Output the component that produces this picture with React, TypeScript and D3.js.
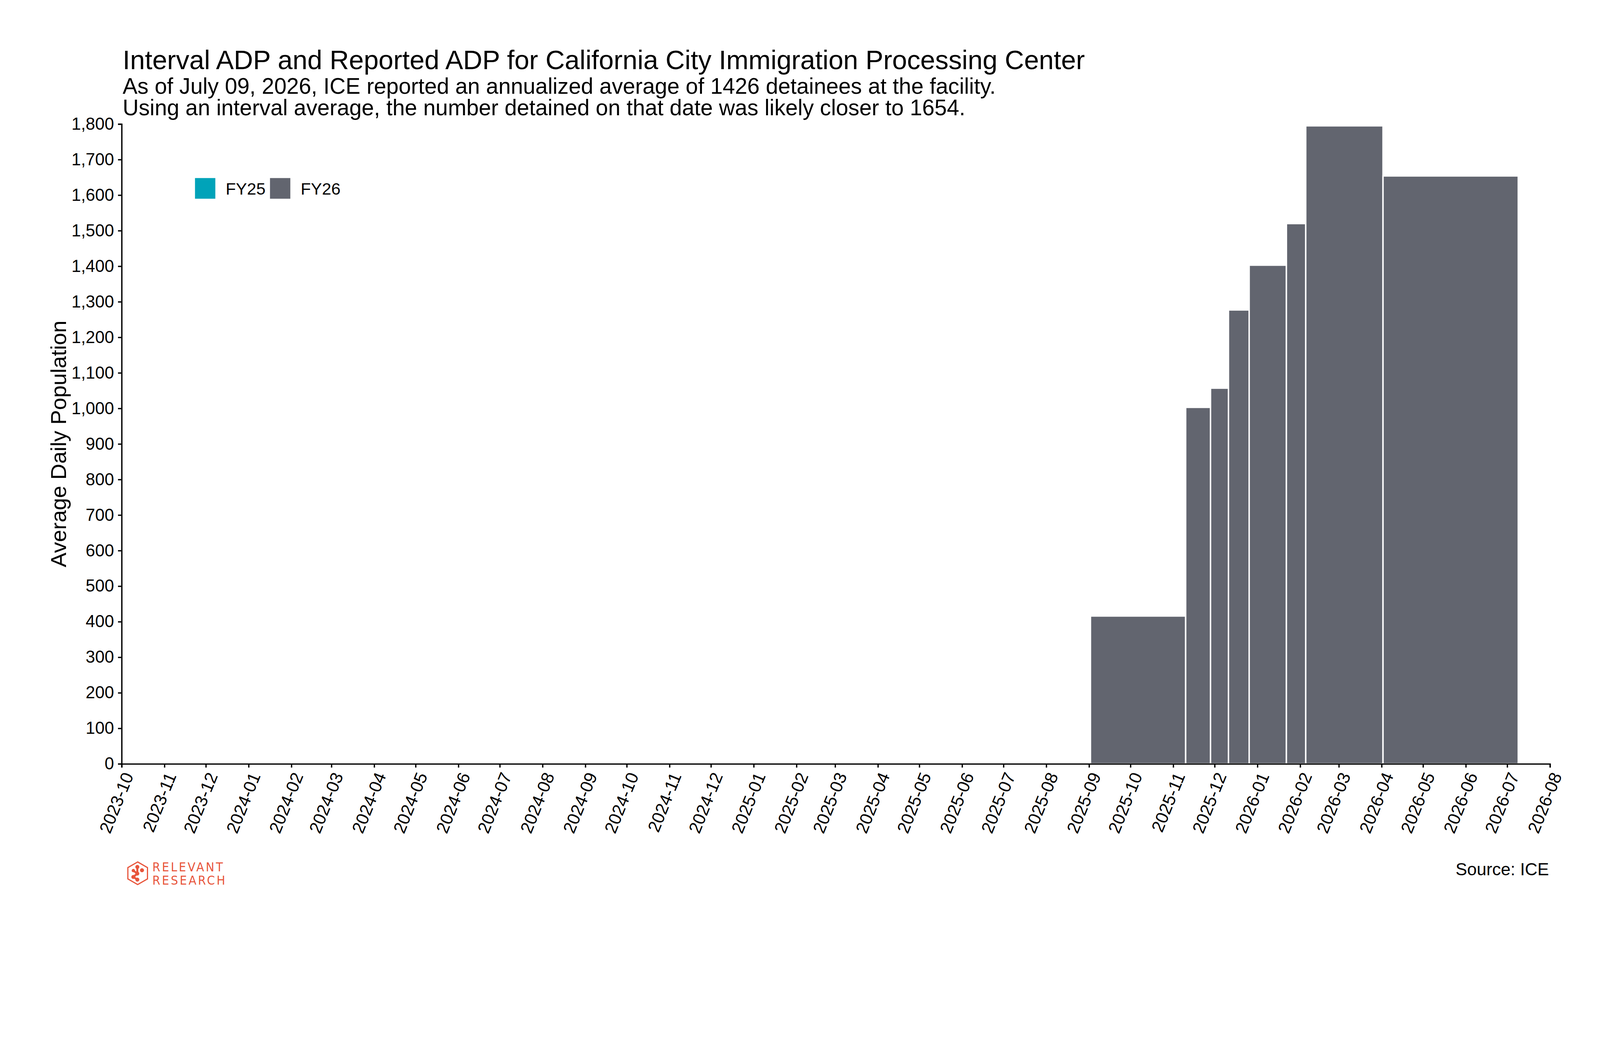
import { useEffect, useRef } from 'react'
import * as d3 from 'd3'

// ── constants ────────────────────────────────────────────────────────────────
const W = 4800
const H = 2700
const M = { left: 365, right: 4650, top: 372, bottom: 2291 }
const FONT = '"Liberation Sans", Arial, Helvetica, sans-serif'
const C_LOGO = '#E8553B'

const TITLE = 'Interval ADP and Reported ADP for California City Immigration Processing Center'
const SUBTITLE = [
  'As of July 09, 2026, ICE reported an annualized average of 1426 detainees at the facility.',
  'Using an interval average, the number detained on that date was likely closer to 1654.',
]

// ── data ─────────────────────────────────────────────────────────────────────
// each bar covers one interval between two ICE reporting dates
const intervalStart = ['2025-09-02', '2025-11-10', '2025-11-28', '2025-12-11', '2025-12-26', '2026-01-22', '2026-02-05', '2026-04-02']
const intervalEnd   = ['2025-11-10', '2025-11-28', '2025-12-11', '2025-12-26', '2026-01-22', '2026-02-05', '2026-04-02', '2026-07-09']
const intervalADP   = [416, 1003, 1057, 1277, 1403, 1520, 1795, 1654]
const intervalFY    = ['FY26', 'FY26', 'FY26', 'FY26', 'FY26', 'FY26', 'FY26', 'FY26']

const fiscalYears = ['FY25', 'FY26']
const fyColors    = ['#00A3B9', '#62656F']

const xDomain = ['2023-10-01', '2026-08-01']
const yTicks  = [0, 100, 200, 300, 400, 500, 600, 700, 800, 900, 1000, 1100, 1200, 1300, 1400, 1500, 1600, 1700, 1800]

const parse = d3.utcParse('%Y-%m-%d')

export default function App() {
  const ref = useRef<SVGSVGElement>(null)

  useEffect(() => {
    document.body.style.margin = '0'
    document.body.style.overflow = 'hidden'
    if (!ref.current) return
    const svg = d3.select(ref.current)
    svg.selectAll('*').remove()

    const x = d3.scaleUtc()
      .domain(xDomain.map(d => parse(d)!) as [Date, Date])
      .range([M.left, M.right])
    const y = d3.scaleLinear().domain([0, 1800]).range([M.bottom, M.top])
    const color = d3.scaleOrdinal<string, string>().domain(fiscalYears).range(fyColors)

    const bars = intervalStart.map((s, i) => ({
      start: parse(s)!,
      end:   parse(intervalEnd[i])!,
      adp:   intervalADP[i],
      fy:    intervalFY[i],
    }))

    // ── bars ────────────────────────────────────────────────────────────────
    svg.append('g')
      .selectAll('rect')
      .data(bars)
      .join('rect')
        .attr('x', d => x(d.start))
        .attr('width', d => x(d.end) - x(d.start))
        .attr('y', d => y(d.adp))
        .attr('height', d => y(0) - y(d.adp))
        .attr('fill', d => color(d.fy))
        .attr('stroke', '#ffffff')
        .attr('stroke-width', 4.3)

    // ── axes ────────────────────────────────────────────────────────────────
    const months = d3.utcMonth.range(x.domain()[0], d3.utcDay.offset(x.domain()[1], 1))

    const gx = svg.append('g')
      .attr('transform', `translate(0,${M.bottom})`)
      .call(d3.axisBottom(x).tickValues(months).tickFormat(d => d3.utcFormat('%Y-%m')(d as Date))
        .tickSize(11).tickSizeOuter(11).tickPadding(0))
    gx.attr('font-size', 52).attr('font-family', FONT)
    gx.select('.domain').attr('stroke', '#000').attr('stroke-width', 4)
    gx.selectAll('.tick line').attr('stroke', '#000').attr('stroke-width', 4)
    gx.selectAll<SVGTextElement, unknown>('.tick text')
      .attr('x', 0).attr('y', 0).attr('dy', 0)
      .attr('fill', '#000')
      .attr('text-anchor', 'end')
      .attr('transform', 'translate(36,35) rotate(-68)')

    const gy = svg.append('g')
      .attr('transform', `translate(${M.left},0)`)
      .call(d3.axisLeft(y).tickValues(yTicks).tickFormat(d3.format(','))
        .tickSize(11).tickSizeOuter(11).tickPadding(12))
    gy.attr('font-size', 51).attr('font-family', FONT)
    gy.select('.domain').attr('stroke', '#000').attr('stroke-width', 4)
    gy.selectAll('.tick line').attr('stroke', '#000').attr('stroke-width', 4)
    gy.selectAll('.tick text').attr('fill', '#000')

    svg.append('text')
      .attr('transform', `translate(198,${(M.top + M.bottom) / 2}) rotate(-90)`)
      .attr('text-anchor', 'middle')
      .attr('font-family', FONT).attr('font-size', 66)
      .text('Average Daily Population')

    // ── legend ──────────────────────────────────────────────────────────────
    const legendX = [585, 810]
    const lg = svg.append('g')
    fiscalYears.forEach((fy, i) => {
      lg.append('rect')
        .attr('x', legendX[i]).attr('y', 534)
        .attr('width', 61).attr('height', 62)
        .attr('fill', color(fy))
      lg.append('text')
        .attr('x', legendX[i] + 92).attr('y', 584)
        .attr('font-family', FONT).attr('font-size', 50)
        .text(fy)
    })

    // ── titles ──────────────────────────────────────────────────────────────
    svg.append('text')
      .attr('x', 368).attr('y', 207)
      .attr('font-family', FONT).attr('font-size', 80)
      .text(TITLE)
    SUBTITLE.forEach((line, i) => {
      svg.append('text')
        .attr('x', 368).attr('y', 281 + i * 65)
        .attr('font-family', FONT).attr('font-size', 66.5)
        .text(line)
    })

    svg.append('text')
      .attr('x', 4647).attr('y', 2625)
      .attr('text-anchor', 'end')
      .attr('font-family', FONT).attr('font-size', 52)
      .text('Source: ICE')

    // ── logo ────────────────────────────────────────────────────────────────
    const logo = svg.append('g').attr('transform', 'translate(413,2619)')
    const hex = d3.range(6).map(k => {
      const a = (Math.PI / 180) * (60 * k - 90)
      return [34 * Math.cos(a), 34 * Math.sin(a)] as [number, number]
    })
    logo.append('path')
      .attr('d', `M${hex.map(p => p.join(',')).join('L')}Z`)
      .attr('fill', 'none').attr('stroke', C_LOGO).attr('stroke-width', 3.5)
    const dots: [number, number, number][] = [[-1, -19, 6], [13, -9, 6], [-13, -8, 5], [-1, 1, 6], [-13, 11, 6], [-1, 19, 6]]
    logo.append('path')
      .attr('d', 'M-1,-19L-1,1L-13,11L-1,19M-13,-8L-1,1')
      .attr('stroke', C_LOGO).attr('stroke-width', 6).attr('fill', 'none')
    logo.selectAll('circle').data(dots).join('circle')
      .attr('cx', d => d[0]).attr('cy', d => d[1]).attr('r', d => d[2])
      .attr('fill', C_LOGO)
    ;['RELEVANT', 'RESEARCH'].forEach((t, i) => {
      svg.append('text')
        .attr('x', 457).attr('y', 2613 + i * 40)
        .attr('font-family', '"DejaVu Sans Condensed", "Liberation Sans Narrow", sans-serif')
        .attr('font-size', 38).attr('letter-spacing', 5)
        .attr('fill', C_LOGO)
        .text(t)
    })
  }, [])

  return (
    <svg
      ref={ref}
      viewBox={`0 0 ${W} ${H}`}
      preserveAspectRatio="xMidYMin meet"
      style={{ position: 'absolute', left: 0, top: 0, width: '100vw', height: '100vh', background: '#ffffff', display: 'block' }}
    />
  )
}
